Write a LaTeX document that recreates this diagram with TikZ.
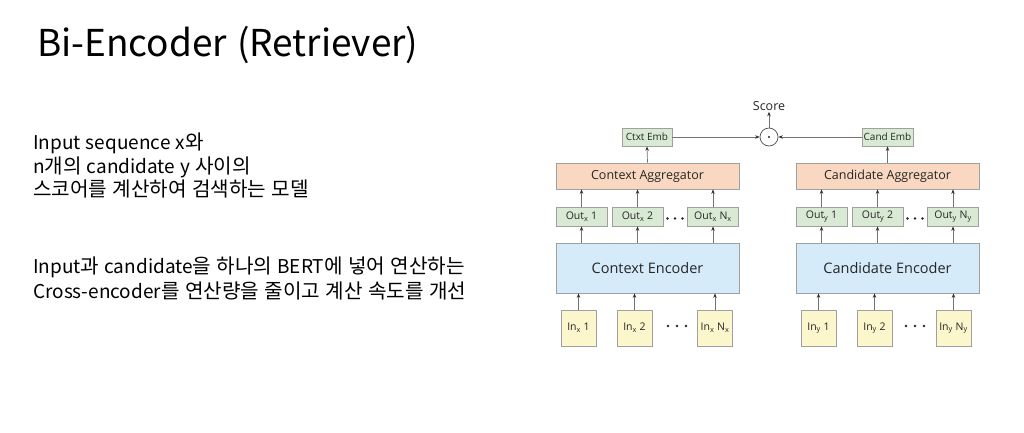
\documentclass[tikz,border=0pt]{standalone}
\usepackage{fontspec}
\setmainfont{Noto Sans CJK KR}[WordSpace=1.2]
\newfontfamily\korean{Noto Sans CJK KR}[Scale=1.06,WordSpace=1.2]
\newcommand\kr[1]{{\korean #1}}
\newfontfamily\diag{Open Sans}
\usetikzlibrary{arrows.meta}
\definecolor{gfill}{HTML}{D8EAD3}
\definecolor{ofill}{HTML}{F9D7C1}
\definecolor{bfill}{HTML}{D5EBFA}
\definecolor{yfill}{HTML}{FBF6CC}
\definecolor{bline}{HTML}{A0A0A0}
\begin{document}
\begin{tikzpicture}[x=1pt,y=-1pt,
  box/.style={draw=bline,line width=0.7pt,inner sep=0pt,font=\diag,text=black!85},
  embbox/.style={box,fill=gfill,minimum height=18pt,font=\diag\fontsize{10}{12}\selectfont},
  outbox/.style={box,fill=gfill,minimum width=51pt,minimum height=19pt,font=\diag\fontsize{10.5}{12}\selectfont},
  aggbox/.style={box,fill=ofill,minimum width=183pt,minimum height=26pt,font=\diag\fontsize{12.5}{14}\selectfont},
  encbox/.style={box,fill=bfill,minimum width=183pt,minimum height=50pt,font=\diag\fontsize{14.5}{16}\selectfont},
  inbox/.style={box,fill=yfill,minimum width=35pt,minimum height=36pt,font=\diag\fontsize{10.5}{12}\selectfont},
  dotmark/.style={fill=black!85},
  arr/.style={draw=black!55,line width=0.7pt,-{Stealth[length=4.5pt,width=3.5pt,black!80]}},
  titletext/.style={anchor=base west,inner sep=0pt,font=\fontsize{37}{40}\selectfont},
  bodytext/.style={anchor=base west,inner sep=0pt,font=\fontsize{19}{21}\selectfont}]
\useasboundingbox (0,0) rectangle (1024,432);
\fill[white] (0,0) rectangle (1024,432);

% title and text
\node[titletext] (title) at (37,56) {Bi-Encoder (Retriever)};
\node[bodytext] (t1) at (33,149) {Input sequence x\kr{와}};
\node[bodytext] (t2) at (33,173) {n\kr{개의} candidate y \kr{사이의}};
\node[bodytext] (t3) at (33,196) {\kr{스코어를 계산하여 검색하는 모델}};
\node[bodytext] (t4) at (33,273) {Input\kr{과} candidate\kr{을 하나의} BERT\kr{에 넣어 연산하는}};
\node[bodytext] (t5) at (33,298) {Cross-encoder\kr{를 연산량을 줄이고 계산 속도를 개선}};

% top
\node[font=\diag\fontsize{12.5}{14}\selectfont,inner sep=1pt,text=black!85] (score) at (769,106) {Score};
\node[draw=black!70,line width=0.7pt,circle,minimum size=18pt,inner sep=0pt] (dot) at (769,137) {};
\fill[dotmark] (dot.center) circle (1.2pt);
\node[embbox,minimum width=50pt] (ctxemb) at (647,137) {Ctxt Emb};
\node[embbox,minimum width=51pt] (candemb) at (887.5,137) {Cand Emb};

% aggregators
\node[aggbox] (ctxagg) at (647.5,176) {Context Aggregator};
\node[aggbox] (candagg) at (887.5,176) {Candidate Aggregator};

% outputs
\node[outbox] (outx1) at (581.5,216.5) {Out\textsubscript{x} 1};
\node[outbox] (outx2) at (637.5,216.5) {Out\textsubscript{x} 2};
\node[outbox] (outxn) at (713,216.5) {Out\textsubscript{x} N\textsubscript{x}};
\node[outbox] (outy1) at (821.5,216.5) {Out\textsubscript{y} 1};
\node[outbox] (outy2) at (877.5,216.5) {Out\textsubscript{y} 2};
\node[outbox] (outyn) at (953,216.5) {Out\textsubscript{y} N\textsubscript{y}};
\foreach \cx in {675,915}
  \foreach \d in {-7.5,0,7.5}
    \fill[dotmark] (\cx+\d,218.5) circle (1.3pt);

% encoders
\node[encbox] (ctxenc) at (647.5,268) {Context Encoder};
\node[encbox] (candenc) at (887.5,268) {Candidate Encoder};

% inputs
\node[inbox] (inx1) at (578.5,328) {In\textsubscript{x} 1};
\node[inbox] (inx2) at (634.5,328) {In\textsubscript{x} 2};
\node[inbox] (inxn) at (715,328) {In\textsubscript{x} N\textsubscript{x}};
\node[inbox] (iny1) at (818.5,328) {In\textsubscript{y} 1};
\node[inbox] (iny2) at (874.5,328) {In\textsubscript{y} 2};
\node[inbox] (inyn) at (953.5,328) {In\textsubscript{y} N\textsubscript{y}};
\foreach \cx in {677,915}
  \foreach \d in {-9,0,9}
    \fill[dotmark] (\cx+\d,326) circle (1.3pt);

% arrows inputs -> encoders
\foreach \n/\e in {inx1/ctxenc,inx2/ctxenc,inxn/ctxenc,iny1/candenc,iny2/candenc,inyn/candenc}
  \draw[arr] (\n.north) -- (\n.north |- \e.south);
% encoders -> outputs
\foreach \n/\e in {outx1/ctxenc,outx2/ctxenc,outxn/ctxenc,outy1/candenc,outy2/candenc,outyn/candenc}
  \draw[arr] (\n.south |- \e.north) -- (\n.south);
% outputs -> aggregators
\foreach \n/\e in {outx1/ctxagg,outx2/ctxagg,outxn/ctxagg,outy1/candagg,outy2/candagg,outyn/candagg}
  \draw[arr] (\n.north) -- (\n.north |- \e.south);
% aggregators -> embeddings
\draw[arr] (ctxagg.north) -- (ctxemb.south);
\draw[arr] (candagg.north) -- (candemb.south);
% embeddings -> dot
\draw[arr] (ctxemb.east) -- (dot.west);
\draw[arr] (candemb.west) -- (dot.east);
\draw[arr] (dot.north) -- (score.south);
\end{tikzpicture}
\end{document}
